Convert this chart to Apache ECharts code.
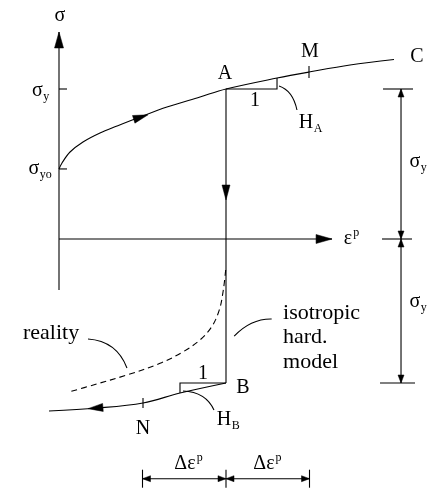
<!DOCTYPE html>
<html>
<head>
<meta charset="utf-8">
<script src="https://cdn.jsdelivr.net/npm/echarts@6/dist/echarts.min.js"></script>
<style>
  html, body { margin: 0; padding: 0; background: #fff; }
  #chart { width: 433px; height: 490px; }
</style>
</head>
<body>
<div id="chart"></div>
<script>
// Stress in units of the current yield stress (sigma_y), plastic strain in units of the increment (delta eps^p).
const sigmaY0 = 0.467;          // initial yield stress
const sigmaA = 1.0;             // stress at A (= sigma_y)
const sigmaB = -0.96;           // stress at B (reverse yield)
const epsA = 2.0;               // plastic strain at A and B

// Hardening curve from the initial yield point through A and M to C
const loadingPath = [
  [0, 0.467], [0.036, 0.507], [0.132, 0.58], [0.287, 0.647], [0.491, 0.707],
  [0.695, 0.753], [0.97, 0.813], [1.293, 0.88], [1.689, 0.947], [2.0, 1.0],
  [2.611, 1.073], [2.994, 1.113], [3.485, 1.16], [4.07, 1.2]
];
// Elastic unloading / reloading from A straight down to B
const unloadingPath = [[2.0, 1.0], [2.0, -0.96]];
// Reverse hardening branch from B through N
const reversePath = [[2.0, -0.96], [1.449, -1.027], [1.006, -1.093], [0.455, -1.127], [-0.12, -1.147]];
// Measured response (Bauschinger effect)
const realityPath = [
  [1.996, -0.207], [1.968, -0.34], [1.92, -0.473], [1.829, -0.585], [1.689, -0.673],
  [1.489, -0.751], [1.21, -0.829], [0.811, -0.907], [0.411, -0.973], [0.132, -1.018]
];
// Marked states on the curves
const pointM = [2.994, 1.113];
const pointN = [1.006, -1.093];
// Slope triangles (run 1, rise H)
const slopeA = [[2.0, 1.0], [2.611, 1.0], [2.611, 1.073]];
const slopeB = [[2.0, -0.96], [1.449, -0.96], [1.449, -1.027]];
// Plastic strain increments shown under the graph
const strainSteps = [1, 2, 3];

const FAMILY = '"Liberation Serif", "Times New Roman", serif';
const INK = '#000';
const LW = 1.1;

const measureCtx = document.createElement('canvas').getContext('2d');
function textWidth(s, size) {
  measureCtx.font = size + 'px ' + FAMILY;
  return measureCtx.measureText(s).width;
}

// Layout of the annotation layer (data coordinates)
const axisLayout = {
  sigmaFrom: -0.34, sigmaTip: 1.38,
  epsTip: 3.27,
  dimX: 4.096,
  dimY: -1.598
};

const leaders = [
  { from: [2.635, 1.02], ctrl: [2.80, 0.99], to: [2.85, 0.86] },
  { from: [1.485, -1.013], ctrl: [1.76, -1.02], to: [1.856, -1.14] },
  { from: [0.347, -0.667], ctrl: [0.69, -0.68], to: [0.814, -0.86] },
  { from: [2.098, -0.647], ctrl: [2.30, -0.53], to: [2.547, -0.533] }
];

const labels = [
  { at: [0.012, 1.487], main: 'σ' },
  { at: [-0.26, 0.987], main: 'σ', sub: 'y' },
  { at: [-0.30, 0.467], main: 'σ', sub: 'yo' },
  { at: [1.988, 1.10], main: 'A' },
  { at: [3.006, 1.247], main: 'M' },
  { at: [4.287, 1.213], main: 'C' },
  { at: [2.347, 0.92], main: '1' },
  { at: [2.958, 0.773], main: 'H', sub: 'A' },
  { at: [2.204, -0.993], main: 'B' },
  { at: [1.725, -0.90], main: '1' },
  { at: [1.976, -1.207], main: 'H', sub: 'B' },
  { at: [1.006, -1.267], main: 'N' },
  { at: [3.461, 0.0], main: 'ε', sup: 'p' },
  { at: [4.263, 0.513], main: 'σ', sub: 'y' },
  { at: [4.263, -0.42], main: 'σ', sub: 'y' },
  { at: [1.509, -1.50], main: 'Δε', sup: 'p' },
  { at: [2.455, -1.50], main: 'Δε', sup: 'p' },
  { at: [-0.431, -0.627], main: 'reality', align: 'left', word: true },
  { at: [2.683, -0.493], main: 'isotropic', align: 'left', word: true },
  { at: [2.683, -0.653], main: 'hard.', align: 'left', word: true },
  { at: [2.683, -0.82], main: 'model', align: 'left', word: true }
];

function renderSketch(params, api) {
  const P = p => api.coord(p);
  const children = [];
  const lineStyle = { stroke: INK, lineWidth: LW, fill: null };

  function poly(points) {
    children.push({ type: 'polyline', shape: { points: points.map(P) }, style: Object.assign({}, lineStyle) });
  }
  // filled arrowhead with its tip at `tip`, pointing away from `back`
  function arrow(tip, back, len, half) {
    const t = P(tip), b = P(back);
    let dx = t[0] - b[0], dy = t[1] - b[1];
    const d = Math.hypot(dx, dy); dx /= d; dy /= d;
    const bx = t[0] - dx * len, by = t[1] - dy * len;
    children.push({
      type: 'polygon',
      shape: { points: [t, [bx - dy * half, by + dx * half], [bx + dy * half, by - dx * half]] },
      style: { fill: INK, stroke: INK, lineWidth: 0.5 }
    });
  }
  function tickV(pt, up, down) {
    const c = P(pt);
    children.push({ type: 'line', shape: { x1: c[0], y1: c[1] - up, x2: c[0], y2: c[1] + down }, style: Object.assign({}, lineStyle) });
  }
  function tickH(pt, left, right) {
    const c = P(pt);
    children.push({ type: 'line', shape: { x1: c[0] - left, y1: c[1], x2: c[0] + right, y2: c[1] }, style: Object.assign({}, lineStyle) });
  }

  // sigma axis and plastic strain axis
  poly([[0, axisLayout.sigmaFrom], [0, axisLayout.sigmaTip]]);
  arrow([0, axisLayout.sigmaTip], [0, 0], 16, 4.5);
  poly([[0, 0], [axisLayout.epsTip, 0]]);
  arrow([axisLayout.epsTip, 0], [0, 0], 16, 4.5);
  tickH([0, sigmaA], 0, 8);
  tickH([0, sigmaY0], 0, 8);

  // slope triangles and state markers
  poly(slopeA);
  poly(slopeB);
  tickV(pointM, 6, 6);
  tickV(pointN, 5, 5);

  // direction arrows on the loading path
  arrow([1.066, 0.828], [0.85, 0.79], 15, 4);
  arrow([epsA, 0.26], [epsA, 1.0], 15, 4);
  arrow([0.347, -1.131], [0.70, -1.115], 15, 4);

  // vertical dimension (2 x sigma_y)
  const dx = axisLayout.dimX;
  poly([[dx, sigmaA], [dx, sigmaB]]);
  tickH([dx, sigmaA], 18, 12);
  tickH([dx, 0], 19, 11);
  tickH([dx, sigmaB], 21, 14);
  arrow([dx, sigmaA], [dx, 0], 8, 3);
  arrow([dx, 0], [dx, sigmaA], 8, 3);
  arrow([dx, 0], [dx, sigmaB], 8, 3);
  arrow([dx, sigmaB], [dx, 0], 8, 3);

  // horizontal dimension (plastic strain increments)
  const dy = axisLayout.dimY;
  poly([[strainSteps[0], dy], [strainSteps[2], dy]]);
  strainSteps.forEach(s => tickV([s, dy], 9, 9));
  arrow([strainSteps[0], dy], [strainSteps[1], dy], 8, 3);
  arrow([strainSteps[1], dy], [strainSteps[0], dy], 8, 3);
  arrow([strainSteps[1], dy], [strainSteps[2], dy], 8, 3);
  arrow([strainSteps[2], dy], [strainSteps[1], dy], 8, 3);

  // leader lines for the callouts
  leaders.forEach(l => {
    const a = P(l.from), c = P(l.ctrl), b = P(l.to);
    children.push({
      type: 'bezierCurve',
      shape: { x1: a[0], y1: a[1], cpx1: c[0], cpy1: c[1], x2: b[0], y2: b[1] },
      style: { stroke: INK, lineWidth: LW, fill: null }
    });
  });

  // text
  const MAIN = 20, WORD = 22, SMALL = 12;
  labels.forEach(lb => {
    const c = P(lb.at);
    const align = lb.align || 'center';
    const size = lb.word ? WORD : MAIN;
    const w = textWidth(lb.main, size);
    children.push({
      type: 'text', x: c[0], y: c[1],
      style: { text: lb.main, font: size + 'px ' + FAMILY, fill: INK, align: align, verticalAlign: 'middle' }
    });
    const right = align === 'center' ? c[0] + w / 2 : c[0] + w;
    if (lb.sub) {
      children.push({
        type: 'text', x: right + 0.5, y: c[1] + 6,
        style: { text: lb.sub, font: SMALL + 'px ' + FAMILY, fill: INK, align: 'left', verticalAlign: 'middle' }
      });
    }
    if (lb.sup) {
      children.push({
        type: 'text', x: right + 1, y: c[1] - 6,
        style: { text: lb.sup, font: SMALL + 'px ' + FAMILY, fill: INK, align: 'left', verticalAlign: 'middle' }
      });
    }
  });

  return { type: 'group', children: children };
}

const curveStyle = { color: INK, width: LW };
const chart = echarts.init(document.getElementById('chart'), null, { renderer: 'canvas' });
chart.setOption({
  animation: false,
  backgroundColor: '#fff',
  grid: { left: 17.25, right: 40, top: 14, bottom: 26 },
  xAxis: { type: 'value', min: -0.5, max: 4.0, show: false },
  yAxis: { type: 'value', min: -1.5, max: 1.5, show: false },
  series: [
    { type: 'line', data: loadingPath, smooth: 0.35, symbol: 'none', lineStyle: curveStyle, silent: true, z: 2 },
    { type: 'line', data: unloadingPath, symbol: 'none', lineStyle: curveStyle, silent: true, z: 2 },
    { type: 'line', data: reversePath, smooth: 0.35, symbol: 'none', lineStyle: curveStyle, silent: true, z: 2 },
    { type: 'line', data: realityPath, smooth: 0.35, symbol: 'none',
      lineStyle: { color: INK, width: LW, type: [6, 4] }, silent: true, z: 2 },
    { type: 'custom', data: [[0, 0]], renderItem: renderSketch, silent: true, clip: false, z: 3 }
  ]
});
</script>
</body>
</html>
